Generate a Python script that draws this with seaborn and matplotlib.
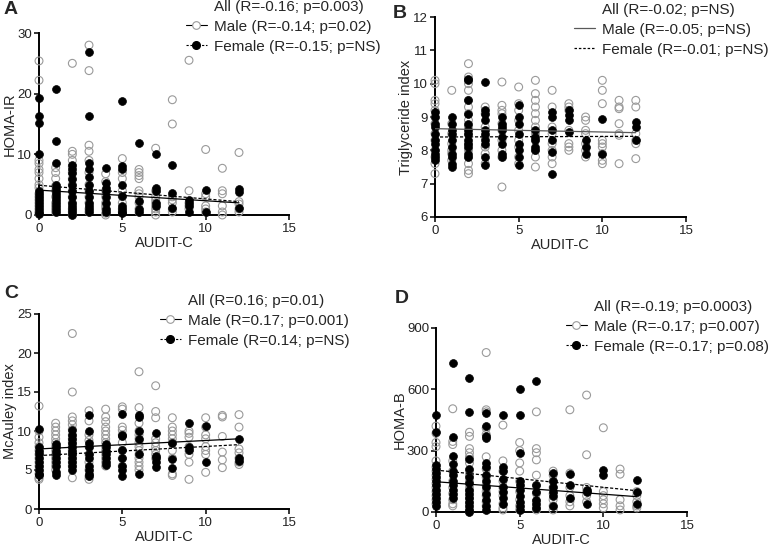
import matplotlib
matplotlib.use("Agg")
import matplotlib.pyplot as plt
from matplotlib.lines import Line2D
import seaborn as sns
import pandas as pd

# ---------------- data ----------------
audit_scores = list(range(13))  # AUDIT-C score 0..12

# Panel A: HOMA-IR, values grouped by AUDIT-C score (index = score)
A_male = [
    [25.4, 22.2, 9, 8.5, 7.5, 7, 6, 5, 4.5, 3.5, 3, 2.5, 2, 1.5, 1, 0.5, 0.2],
    [7.8, 7, 6, 4.8, 4, 3, 2, 1.5, 1, 0.5],
    [25, 10.5, 10, 9, 8, 7, 6, 5, 4, 3, 2, 1, 0.5, 0],
    [28, 23.8, 11.5, 10.5, 9, 7, 5, 4, 3, 2, 1, 0.5],
    [6.8, 5.5, 4, 3, 2, 1.5, 1, 0.3, 0],
    [9.3, 7, 6, 4, 3, 2, 1, 0.5],
    [7.5, 7, 6.5, 6, 4, 3.5, 3, 2, 1, 0.5],
    [11, 4, 3, 2.5, 2, 1.5, 1, 0.5, 0],
    [19, 15, 3, 2.5, 2, 1, 0.5],
    [25.5, 4, 2, 1.5, 1],
    [10.8, 3.5, 3, 1.5, 1, 0.5],
    [7.7, 4, 3.5, 1.5, 0.5, 0],
    [10.3, 2.2, 1.8, 1, 0.5],
]
A_female = [
    [19.3, 16.4, 15.2, 10, 4, 3.5, 3, 2.5, 2, 1.5, 1, 0.5, 0.2],
    [20.8, 12.2, 8.6, 5, 4.5, 4, 3.5, 3, 2.5, 2, 1.5, 1, 0.5],
    [8.2, 7.5, 7, 6, 5, 4, 3, 2, 1.5, 1, 0.5, 0],
    [26.8, 16.4, 8.5, 7.5, 6.3, 5, 4, 3, 2, 1.5, 1, 0.5],
    [7.7, 5.3, 4.5, 4, 3, 2, 1, 0.5],
    [18.8, 8, 7.5, 5, 3.2, 1.5, 1, 0.5, 0.3],
    [11.8, 2.3, 1, 0.5],
    [10, 4.5, 4, 2, 1.5],
    [8.2, 3.7, 1.2],
    [2.5, 2, 1.5, 0.5],
    [4.2, 0.5],
    [],
    [4.3, 3.8, 1.2],
]

# Panel B: Triglyceride index
B_male = [
    [10.1, 10.0, 9.5, 9.4, 9.2, 9, 8.8, 8.5, 8.3, 8, 7.8, 7.6, 7.3],
    [9.8, 8.8, 8.5, 8.2, 8, 7.9, 7.7],
    [10.6, 10.2, 10.0, 9.8, 9.5, 9.3, 9.1, 8.9, 8.7, 8.5, 8.2, 8, 7.8, 7.6, 7.4, 7.3],
    [9.3, 9.1, 8.7, 8.4, 8.1, 7.9, 7.6],
    [10.05, 9.35, 9.2, 9.1, 8.8, 8.6, 8.3, 8, 7.8, 6.9],
    [9.9, 9.4, 9.2, 8.9, 8.6, 8.3, 8.1, 7.8, 7.6],
    [10.1, 9.7, 9.5, 9.3, 9.1, 8.9, 8.7, 8.5, 8.3, 8.0, 7.8, 7.5],
    [9.8, 9.3, 8.7, 8.5, 8.2, 8.0, 7.8, 7.6],
    [9.4, 9.3, 9.2, 8.6, 8.2, 8.1, 8],
    [9.0, 8.9, 8.6, 8.5, 8.2, 8.0, 7.8],
    [10.1, 9.8, 9.4, 8.3, 8.2, 8.1, 7.9, 7.7, 7.6],
    [9.5, 9.3, 9.25, 8.8, 8.5, 8.45, 7.6],
    [9.5, 9.3, 8.5, 8.3, 8.2, 7.75],
]
B_female = [
    [9.15, 9, 8.8, 8.7, 8.5, 8.3, 8.2, 8.0, 7.9, 7.8, 7.7],
    [9.0, 8.8, 8.6, 8.5, 8.3, 8.1, 7.9, 7.8, 7.6, 7.5],
    [10.15, 10.1, 9.5, 9.1, 8.8, 8.6, 8.5, 8.3, 8.2, 8.1, 7.9, 7.8],
    [10.05, 9.2, 9.1, 8.9, 8.6, 8.5, 8.3, 8.2, 7.8, 7.55],
    [9.0, 8.8, 8.7, 8.6, 8.4, 8.2, 7.9, 7.8],
    [9.35, 9.0, 8.8, 8.5, 8.2, 8.0, 7.8, 7.55],
    [8.6, 8.4, 8.3, 8.1, 8.0],
    [9.15, 9.0, 8.6, 8.3, 7.95, 7.3],
    [9.2, 9.05, 8.9, 8.55],
    [8.3, 8.1, 7.9],
    [8.95, 7.9],
    [],
    [8.85, 8.7, 8.3],
]

# Panel C: McAuley index
C_male = [
    [13.2, 10, 9.2, 8.5, 8, 7.5, 7, 6.5, 6, 5.5, 5, 4.5, 4, 3.8],
    [11, 10.5, 10, 9.5, 9, 8.5, 8, 7.5, 7, 6.5, 6, 5.5, 5],
    [22.5, 15, 11.8, 11.3, 10.8, 10.2, 9.5, 9, 8.5, 8, 7.5, 7, 6.5, 6, 5.5, 4],
    [12.6, 11.3, 9.5, 8.8, 8, 7, 6, 5, 4.2, 3.8],
    [12.8, 11.8, 11.2, 10.5, 10, 9.5, 9, 8.5, 8, 7.5, 7, 6.5, 6, 5.5],
    [13.1, 12.8, 10.5, 10.1, 9.5, 8.5, 7.5, 6.5, 5.5],
    [17.6, 13, 11, 10, 9.5, 9, 8.5, 8, 7.5, 7, 6.5, 6, 5.5, 5],
    [15.8, 12.5, 11.7, 9, 8.5, 8, 7.5, 7, 6.5],
    [11.7, 10.5, 10, 9.5, 9, 8.5, 7.5, 6.5, 4.5, 4.3],
    [10, 9.7, 9.2, 8, 7.5, 7, 6, 3.8],
    [11.7, 10.5, 9.5, 9, 8, 7.5, 7, 4.7],
    [12, 11.8, 9.3, 7.3, 6.3, 5.3],
    [12.1, 10.5, 7.7, 7.2, 6.5, 6, 5.7],
]
C_female = [
    [10.2, 8, 7.5, 7, 6.5, 6, 5.5, 5, 4.5, 4.3],
    [8.3, 8, 7.5, 7, 6.5, 6, 5.5, 4.8, 4.3],
    [10.1, 9.5, 9, 8.5, 8, 7.5, 7, 6.5, 6, 5.5, 5],
    [12.1, 10, 8.5, 8, 7, 6.5, 5.5, 5, 4.5, 4.2],
    [8.3, 8, 7.5, 7, 6.5, 6, 5.7],
    [12.2, 9.5, 9.3, 7.6, 6.6, 5.5, 5, 4.2],
    [12, 11.8, 10, 9, 7, 4.5],
    [9.8, 6.8, 6.5, 6, 5.4],
    [8.4, 6.4, 5.3],
    [11, 8, 7.6],
    [10.7, 6],
    [],
    [9, 6.5, 6.2],
]

# Panel D: HOMA-B
D_male = [
    [420, 385, 340, 320, 250, 220, 200, 180, 160, 140, 120, 100, 80, 60, 40],
    [505, 345, 330, 250, 200, 150, 120, 90, 60, 40, 30],
    [390, 370, 310, 290, 270, 240, 200, 180, 150, 120, 100, 70, 40, 10, 0],
    [780, 500, 490, 410, 380, 270, 210, 170, 130, 100, 80, 50, 30],
    [425, 250, 200, 150, 120, 100, 80, 40, 20, 10],
    [340, 300, 240, 200, 150, 100, 60, 30, 10],
    [490, 310, 290, 255, 180, 130, 90, 50, 20, 10],
    [200, 180, 150, 120, 90, 60, 30, 10],
    [500, 190, 120, 80, 50, 30],
    [572, 280, 120, 100, 80, 50],
    [412, 100, 80, 60, 40, 20],
    [210, 185, 60, 30, 10],
    [100, 80, 50, 30, 20],
]
D_female = [
    [475, 390, 230, 210, 190, 170, 150, 130, 110, 90, 70, 50, 30],
    [730, 365, 275, 235, 200, 180, 150, 130, 110, 90, 70],
    [655, 490, 260, 210, 170, 140, 110, 90, 70, 50, 30, 10, 0],
    [485, 420, 370, 360, 240, 220, 180, 150, 120, 90, 60, 30, 10],
    [475, 220, 200, 160, 120, 100, 70, 40],
    [600, 475, 290, 150, 130, 110, 80, 50, 30, 10],
    [640, 130, 100, 60, 40, 20],
    [190, 150, 120, 100, 80, 30],
    [185, 130, 70],
    [110, 100, 40],
    [205, 180],
    [],
    [155, 100, 40],
]

# regression lines (end points)
fit_x = [0, 12]
A_male_fit, A_female_fit = [4.1, 2.0], [4.9, 2.2]
B_male_fit, B_female_fit = [8.65, 8.53], [8.40, 8.42]
C_male_fit, C_female_fit = [7.7, 9.0], [6.85, 8.25]
D_male_fit, D_female_fit = [148, 75], [205, 104]

panel_letters = ["A", "B", "C", "D"]
y_labels = ["HOMA-IR", "Triglyceride index", "McAuley index", "HOMA-B"]
x_label = "AUDIT-C"
x_ticks = [0, 5, 10, 15]
y_ticks = [[0, 10, 20, 30], [6, 7, 8, 9, 10, 11, 12], [0, 5, 10, 15, 20, 25], [0, 300, 600, 900]]
legend_all = ["All (R=-0.16; p=0.003)", "All (R=-0.02; p=NS)",
              "All (R=0.16; p=0.01)", "All (R=-0.19; p=0.0003)"]
legend_male = ["Male (R=-0.14; p=0.02)", "Male (R=-0.05; p=NS)",
               "Male (R=0.17; p=0.001)", "Male (R=-0.17; p=0.007)"]
legend_female = ["Female (R=-0.15; p=NS)", "Female (R=-0.01; p=NS)",
                 "Female (R=0.14; p=NS)", "Female (R=-0.17; p=0.08)"]


def to_frame(groups):
    xs, ys = [], []
    for score, vals in zip(audit_scores, groups):
        for v in vals:
            xs.append(score)
            ys.append(v)
    return pd.DataFrame({"x": xs, "y": ys})


# ---------------- plotting ----------------
sns.set_style("ticks")
plt.rcParams["font.family"] = ["Liberation Sans", "DejaVu Sans"]

W, H = 778, 551
fig = plt.figure(figsize=(W / 100, H / 100), dpi=100)

# axes boxes in pixels: left, right, top, bottom
boxes = [(39, 289, 33, 215), (435, 686, 17, 217), (39, 289, 314, 509), (436, 687, 328, 512)]
letter_pos = [(4, 1), (393, 5), (4, 285), (395, 290)]
legend_anchor = [(186, 0), (574, 3), (160, 294), (566, 300)]

panels = [
    (A_male, A_female, A_male_fit, A_female_fit),
    (B_male, B_female, B_male_fit, B_female_fit),
    (C_male, C_female, C_male_fit, C_female_fit),
    (D_male, D_female, D_male_fit, D_female_fit),
]

gray = "#9a9a9a"
for i, (male, female, mfit, ffit) in enumerate(panels):
    l, r, t, b = boxes[i]
    ax = fig.add_axes([l / W, 1 - b / H, (r - l) / W, (b - t) / H])
    dm = to_frame(male)
    dfm = to_frame(female)
    sns.scatterplot(data=dm, x="x", y="y", ax=ax, marker="o", s=32,
                    facecolors="none", edgecolor=gray, linewidth=0.8,
                    clip_on=False, zorder=3)
    sns.scatterplot(data=dfm, x="x", y="y", ax=ax, marker="o", s=32,
                    color="black", edgecolor="black", linewidth=0.5,
                    clip_on=False, zorder=4)
    male_line_color = "0.35" if i == 1 else "black"
    sns.lineplot(x=fit_x, y=mfit, ax=ax, color=male_line_color, linewidth=0.9, zorder=5)
    sns.lineplot(x=fit_x, y=ffit, ax=ax, color="black", linewidth=0.9,
                 linestyle=(0, (2.5, 1.5)), zorder=5)

    yt = y_ticks[i]
    ax.set_xlim(0, 15)
    ax.set_ylim(yt[0], yt[-1])
    ax.set_xticks(x_ticks)
    ax.set_yticks(yt)
    ax.set_xlabel(x_label, fontsize=10.5, labelpad=1)
    ax.set_ylabel(y_labels[i], fontsize=10.5, labelpad=0)
    ax.tick_params(axis="both", labelsize=9.5, length=3.5, width=1.1, color="black",
                   labelcolor="#222222", pad=2)
    ax.tick_params(axis="y", pad=1.5)
    for s in ["left", "bottom"]:
        ax.spines[s].set_linewidth(1.4)
        ax.spines[s].set_color("black")
    sns.despine(ax=ax)
    ax.set_facecolor("none")

    # legend
    if i == 1:
        h_male = Line2D([], [], color="0.35", linewidth=0.9)
        h_female = Line2D([], [], color="black", linewidth=0.9, linestyle=(0, (2, 1.5)))
    else:
        h_male = Line2D([], [], color="black", linewidth=0.8, marker="o", markersize=5.5,
                        markerfacecolor="white", markeredgecolor=gray, markeredgewidth=0.8)
        h_female = Line2D([], [], color="black", linewidth=0.8, linestyle=(0, (2, 1.5)),
                          marker="o", markersize=5.5, markerfacecolor="black",
                          markeredgecolor="black")
    h_all = Line2D([], [], linestyle="none")
    ax_, ay_ = legend_anchor[i]
    fig.legend([h_all, h_male, h_female], [legend_all[i], legend_male[i], legend_female[i]],
               loc="upper left", bbox_to_anchor=(ax_ / W, 1 - ay_ / H),
               bbox_transform=fig.transFigure, frameon=False, fontsize=11,
               borderpad=0, borderaxespad=0, handlelength=1.35, handletextpad=0.5,
               labelspacing=0.38)

    lx, ly = letter_pos[i]
    fig.text(lx / W, 1 - ly / H, panel_letters[i], fontsize=14, fontweight="bold",
             ha="left", va="top")

fig.savefig("out.png", dpi=100)
